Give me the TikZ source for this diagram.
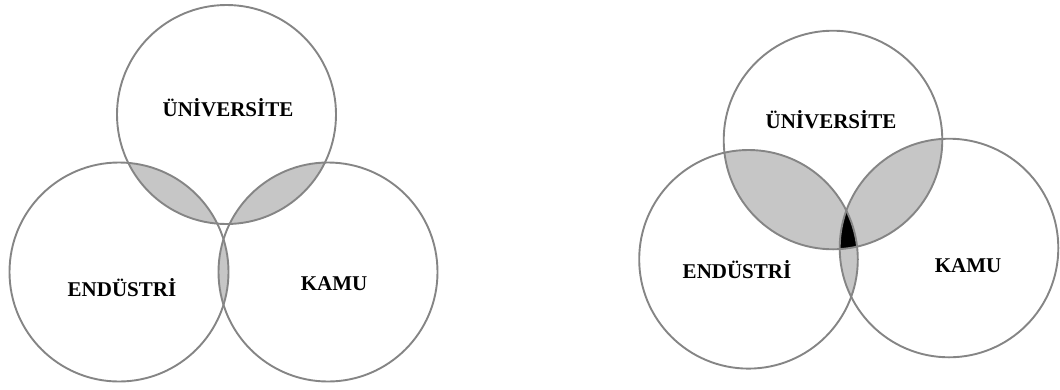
\documentclass[tikz,border=0pt]{standalone}
\usepackage{fontspec}
\setmainfont{Liberation Serif}
\begin{document}
\begin{tikzpicture}[x=1pt,y=-1pt,
  ring/.style={draw=ringgray,line width=1.9pt},
  lens/.style={fill=lensgray},
  lbl/.style={font=\fontsize{21}{24}\selectfont\bfseries,inner sep=0pt}]
\definecolor{ringgray}{HTML}{858585}
\definecolor{lensgray}{HTML}{C6C6C6}
\useasboundingbox (0,0) rectangle (1060,389);
% left diagram centres
\coordinate (aU) at (226.5,114.5);
\coordinate (aE) at (119,272);
\coordinate (aK) at (328,272);
\def\ra{109.5}
% right diagram centres
\coordinate (bU) at (833,140);
\coordinate (bE) at (748.5,259.3);
\coordinate (bK) at (949,248);
\def\rb{109.3}
% left: pairwise lenses
\begin{scope}\clip (aU) circle (\ra); \fill[lens] (aE) circle (\ra); \end{scope}
\begin{scope}\clip (aU) circle (\ra); \fill[lens] (aK) circle (\ra); \end{scope}
\begin{scope}\clip (aE) circle (\ra); \fill[lens] (aK) circle (\ra); \end{scope}
% right: pairwise lenses
\begin{scope}\clip (bU) circle (\rb); \fill[lens] (bE) circle (\rb); \end{scope}
\begin{scope}\clip (bU) circle (\rb); \fill[lens] (bK) circle (\rb); \end{scope}
\begin{scope}\clip (bE) circle (\rb); \fill[lens] (bK) circle (\rb); \end{scope}
% triple intersection
\begin{scope}\clip (bU) circle (\rb); \clip (bE) circle (\rb); \fill[black] (bK) circle (\rb); \end{scope}
% rings
\draw[ring] (aU) circle (\ra);
\draw[ring] (aE) circle (\ra);
\draw[ring] (aK) circle (\ra);
\draw[ring] (bU) circle (\rb);
\draw[ring] (bE) circle (\rb);
\draw[ring] (bK) circle (\rb);
% labels
\node[lbl] (laU) at (228,108) {ÜNİVERSİTE};
\node[lbl] (laE) at (122,288) {ENDÜSTRİ};
\node[lbl] (laK) at (334,284) {KAMU};
\node[lbl] (lbU) at (831,120) {ÜNİVERSİTE};
\node[lbl] (lbE) at (737,270) {ENDÜSTRİ};
\node[lbl] (lbK) at (968,266) {KAMU};
\end{tikzpicture}
\end{document}
